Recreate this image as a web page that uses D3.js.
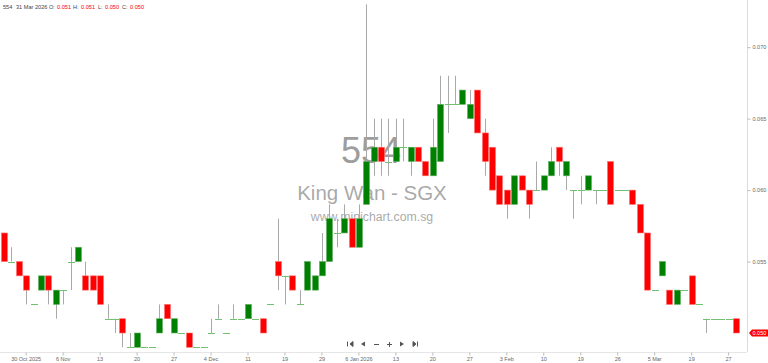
<!DOCTYPE html>
<html>
<head>
<meta charset="utf-8">
<script src="https://cdn.jsdelivr.net/npm/d3@7"></script>
<style>
  body { margin: 0; background: #fff; }
  svg { display: block; font-family: "Liberation Sans", Arial, sans-serif; }
</style>
</head>
<body>
<div id="chart"></div>
<script>
// daily candles, King Wan (554), oldest first
const opens  = [0.057,0.055,0.055,0.054,0.052,0.053,0.054,0.052,0.053,0.055,
                0.055,0.054,0.054,0.054,0.051,0.051,0.051,0.049,0.049,0.049,
                0.049,0.050,0.052,0.050,0.050,0.050,0.049,0.049,0.050,0.051,
                0.050,0.051,0.051,0.051,0.051,0.051,0.052,0.055,0.054,0.054,
                0.052,0.053,0.053,0.054,0.055,0.057,0.057,0.058,0.056,0.059,
                0.062,0.063,0.062,0.062,0.063,0.062,0.063,0.062,0.061,0.062,
                0.066,0.066,0.066,0.065,0.067,0.064,0.063,0.061,0.060,0.059,
                0.061,0.060,0.060,0.060,0.061,0.063,0.061,0.060,0.060,0.060,
                0.060,0.060,0.062,0.060,0.060,0.060,0.059,0.057,0.053,0.054,
                0.053,0.052,0.053,0.054,0.052,0.051,0.051,0.051,0.051,0.051]
const highs  = [0.057,0.056,0.055,0.054,0.052,0.054,0.054,0.053,0.053,0.056,
                0.056,0.055,0.054,0.054,0.052,0.051,0.051,0.050,0.050,0.049,
                0.049,0.052,0.052,0.051,0.050,0.050,0.049,0.049,0.051,0.052,
                0.050,0.052,0.051,0.052,0.051,0.051,0.052,0.058,0.054,0.054,
                0.053,0.055,0.054,0.057,0.059,0.058,0.059,0.058,0.059,0.073,
                0.065,0.065,0.065,0.065,0.065,0.063,0.063,0.062,0.065,0.068,
                0.068,0.068,0.067,0.067,0.067,0.065,0.063,0.061,0.060,0.061,
                0.061,0.060,0.062,0.061,0.063,0.063,0.062,0.060,0.061,0.061,
                0.060,0.060,0.062,0.060,0.060,0.060,0.059,0.057,0.053,0.055,
                0.053,0.053,0.053,0.054,0.052,0.051,0.051,0.051,0.051,0.051]
const lows   = [0.055,0.055,0.054,0.052,0.052,0.053,0.052,0.051,0.052,0.053,
                0.055,0.053,0.053,0.052,0.051,0.050,0.049,0.049,0.049,0.049,
                0.049,0.050,0.051,0.050,0.050,0.049,0.049,0.049,0.050,0.051,
                0.050,0.051,0.051,0.051,0.051,0.050,0.052,0.053,0.052,0.053,
                0.052,0.053,0.053,0.054,0.055,0.056,0.057,0.056,0.056,0.059,
                0.061,0.061,0.061,0.062,0.062,0.061,0.062,0.061,0.061,0.062,
                0.064,0.066,0.066,0.065,0.064,0.061,0.060,0.059,0.058,0.059,
                0.060,0.058,0.060,0.060,0.061,0.061,0.060,0.058,0.059,0.060,
                0.059,0.060,0.059,0.060,0.060,0.059,0.057,0.053,0.053,0.054,
                0.052,0.052,0.053,0.052,0.052,0.050,0.051,0.051,0.051,0.050]
const closes = [0.055,0.055,0.054,0.053,0.052,0.054,0.053,0.053,0.053,0.055,
                0.056,0.053,0.053,0.052,0.051,0.051,0.050,0.049,0.050,0.049,
                0.049,0.051,0.051,0.051,0.050,0.049,0.049,0.049,0.050,0.051,
                0.050,0.051,0.051,0.052,0.051,0.050,0.052,0.054,0.054,0.053,
                0.052,0.055,0.054,0.055,0.058,0.057,0.058,0.056,0.058,0.062,
                0.063,0.062,0.062,0.063,0.063,0.063,0.062,0.061,0.063,0.066,
                0.066,0.066,0.067,0.066,0.064,0.062,0.060,0.059,0.059,0.061,
                0.060,0.059,0.060,0.061,0.062,0.062,0.062,0.060,0.060,0.061,
                0.060,0.060,0.059,0.060,0.060,0.059,0.057,0.053,0.053,0.055,
                0.052,0.053,0.053,0.052,0.052,0.051,0.051,0.051,0.051,0.050]

// x axis labels and the candle they sit under
const tickLabels = ["30 Oct 2025","6 Nov","13","20","27","4 Dec","11","19","29","6 Jan 2026",
                    "13","20","27","3 Feb","10","19","26","5 Mar","19","27"]
const tickDays = [3,8,13,18,23,28,33,38,43,48,53,58,63,68,73,78,83,88,93,98]
const priceTicks = [0.055, 0.060, 0.065, 0.070]

const header = { code: "554", date: "31 Mar 2026", o: "0.051", h: "0.051", l: "0.050", c: "0.050" }

const width = 768
const height = 363
const plotRight = 747
const axisY = 352

const svg = d3.select("#chart").append("svg").attr("width", width).attr("height", height)

const x = d3.scaleBand().domain(d3.range(opens.length)).range([0.3, 739.7]).padding(0)
const y = d3.scaleLinear().domain([0.050, 0.070]).range([333, 47.2])
const cx = i => Math.round(x(i) + x.bandwidth() / 2)
const bodyW = 6

// watermark
const wm = svg.append("g").attr("fill", "#8c8c8c").attr("text-anchor", "middle")
wm.append("text").attr("x", 371).attr("y", 163).attr("font-size", 36).attr("fill-opacity", 0.85).text("554")
wm.append("text").attr("x", 372).attr("y", 199.5).attr("font-size", 20.5).attr("fill-opacity", 0.75).text("King Wan - SGX")
wm.append("text").attr("x", 372).attr("y", 220.5).attr("font-size", 12.3).attr("fill-opacity", 0.75).text("www.minichart.com.sg")

// axes
svg.append("line").attr("x1", plotRight + 0.5).attr("x2", plotRight + 0.5).attr("y1", 0).attr("y2", axisY)
  .attr("stroke", "#dcdcdc")
svg.append("line").attr("x1", 0).attr("x2", plotRight).attr("y1", axisY + 0.5).attr("y2", axisY + 0.5)
  .attr("stroke", "#e6e6e6")

const yAxis = d3.axisRight(y).tickValues(priceTicks).tickFormat(d3.format(".3f")).tickSize(3).tickPadding(2)
const yAxisGroup = svg.append("g").attr("transform", `translate(${plotRight + 0.5},0)`).call(yAxis)
yAxisGroup.select(".domain").remove()
yAxisGroup.selectAll("line").attr("stroke", "#bbb")
yAxisGroup.selectAll("text").attr("fill", "#666").attr("font-size", 5.5).attr("font-family", "Liberation Sans, Arial")

const xAxis = d3.axisBottom(x).tickValues(tickDays).tickFormat((d, i) => tickLabels[i]).tickSize(3).tickPadding(2)
const xAxisGroup = svg.append("g").attr("transform", `translate(0,${axisY + 0.5})`).call(xAxis)
xAxisGroup.select(".domain").remove()
xAxisGroup.selectAll("line").attr("stroke", "#bbb")
xAxisGroup.selectAll("text").attr("fill", "#666").attr("font-size", 5.5).attr("font-family", "Liberation Sans, Arial")

// candles
const candles = d3.range(opens.length).map(i => ({ i, o: opens[i], h: highs[i], l: lows[i], c: closes[i] }))
const g = svg.append("g")

g.selectAll(".wick").data(candles.filter(d => d.h > d.l)).enter().append("line")
  .attr("class", "wick")
  .attr("x1", d => cx(d.i) + 0.5).attr("x2", d => cx(d.i) + 0.5)
  .attr("y1", d => y(d.h)).attr("y2", d => y(d.l))
  .attr("stroke", "#a9a9a9").attr("stroke-width", 1)

g.selectAll(".doji").data(candles.filter(d => d.o === d.c)).enter().append("line")
  .attr("class", "doji")
  .attr("x1", d => cx(d.i) - bodyW / 2).attr("x2", d => cx(d.i) + bodyW / 2 + 1)
  .attr("y1", d => Math.round(y(d.c)) + 0.5).attr("y2", d => Math.round(y(d.c)) + 0.5)
  .attr("stroke", "#72c172").attr("stroke-width", 1)

g.selectAll(".body").data(candles.filter(d => d.o !== d.c)).enter().append("rect")
  .attr("class", "body")
  .attr("x", d => cx(d.i) - bodyW / 2 + 0.5)
  .attr("y", d => y(Math.max(d.o, d.c)))
  .attr("width", bodyW)
  .attr("height", d => y(Math.min(d.o, d.c)) - y(Math.max(d.o, d.c)))
  .attr("fill", d => d.c > d.o ? "#008000" : "#ff0000")
  .attr("stroke", d => d.c > d.o ? "#5fb05f" : "#ff7070")
  .attr("stroke-width", 0.6)

// last price tag
const last = closes[closes.length - 1]
const ty = y(last)
svg.append("path")
  .attr("d", `M${plotRight + 2},${ty} L${plotRight + 5},${ty - 3.5} L768,${ty - 3.5} L768,${ty + 3.5} L${plotRight + 5},${ty + 3.5} Z`)
  .attr("fill", "#ff0000")
svg.append("text").attr("x", plotRight + 5.5).attr("y", ty + 2).attr("font-size", 5.5)
  .attr("fill", "#fff").text(d3.format(".3f")(last))

// header line
const hdr = svg.append("g").attr("font-size", 5.6)
const hdrParts = [
  [3, header.code, "#444"], [16, header.date, "#444"],
  [49, "O:", "#444"], [57, header.o, "#ff0000"],
  [73, "H:", "#444"], [81, header.h, "#ff0000"],
  [98, "L:", "#444"], [105, header.l, "#ff0000"],
  [122, "C:", "#444"], [130, header.c, "#ff0000"]
]
hdr.selectAll("text").data(hdrParts).enter().append("text")
  .attr("x", d => d[0]).attr("y", 8.7).attr("fill", d => d[2]).text(d => d[1])

// navigation buttons
const nav = svg.append("g").attr("fill", "#555").attr("stroke", "#555")
const ny = 344
nav.append("path").attr("d", `M347.5,${ny - 2.5} V${ny + 2.5} M${350},${ny} L${353},${ny - 2.5} L${353},${ny + 2.5} Z`).attr("stroke-width", 1)
nav.append("path").attr("d", `M361,${ny} L365,${ny - 2.5} L365,${ny + 2.5} Z`).attr("stroke", "none")
nav.append("path").attr("d", `M374,${ny + 0.5} H379`).attr("stroke-width", 1)
nav.append("path").attr("d", `M387,${ny + 0.5} H392 M389.5,${ny - 2} V${ny + 3}`).attr("stroke-width", 1)
nav.append("path").attr("d", `M400,${ny - 2.5} L404,${ny} L400,${ny + 2.5} Z`).attr("stroke", "none")
nav.append("path").attr("d", `M413,${ny - 2.5} L416,${ny} L413,${ny + 2.5} Z M417.5,${ny - 2.5} V${ny + 2.5}`).attr("stroke-width", 1)
</script>
</body>
</html>
